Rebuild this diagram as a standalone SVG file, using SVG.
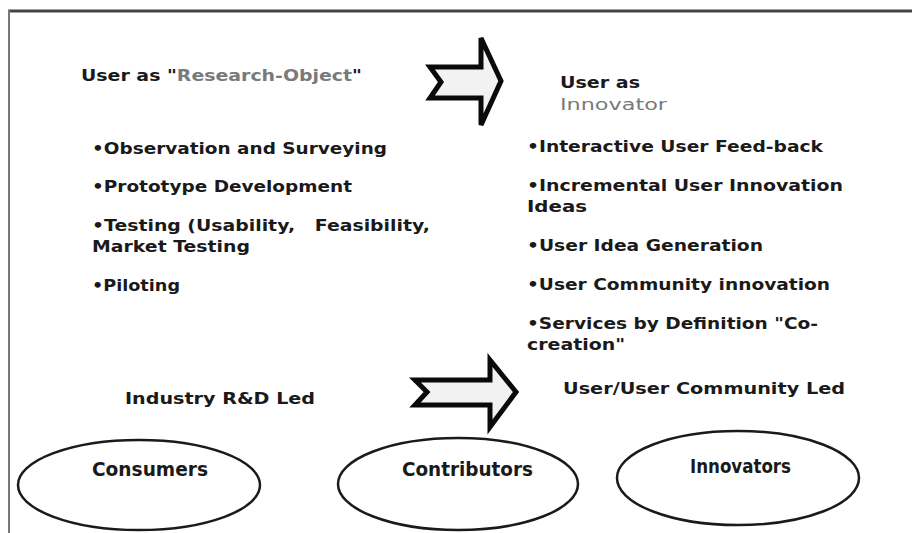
<svg xmlns="http://www.w3.org/2000/svg" width="912" height="533" viewBox="0 0 912 533">
<style>
  .t { font-family: "DejaVu Sans", Verdana, sans-serif; font-weight: bold; font-size: 16px; fill: #1a1a1a; }
  .g { fill: #7a7a7a; }
  .gn { fill: #7a7a7a; font-weight: normal; }
  .e { font-family: "DejaVu Sans Condensed", "DejaVu Sans", sans-serif; font-weight: bold; font-size: 19px; fill: #1a1a1a; }
  .ell { fill: #fff; stroke: #1a1a1a; stroke-width: 2.5; }
  .arr { fill: #f2f2f2; stroke: #0a0a0a; stroke-width: 5; stroke-linejoin: miter; }
</style>
<rect width="912" height="533" fill="#fff"/>
<line x1="8" y1="11" x2="912" y2="11" stroke="#444" stroke-width="3"/>
<line x1="9" y1="10" x2="9" y2="533" stroke="#777" stroke-width="2"/>

<g id="left-header">
  <text class="t" x="81" y="81" textLength="281" lengthAdjust="spacingAndGlyphs">User as "<tspan class="g">Research-Object</tspan>"</text>
</g>
<g id="right-header">
  <text class="t" x="560" y="88" textLength="80" lengthAdjust="spacingAndGlyphs">User as</text>
  <text class="t gn" x="560" y="110" textLength="107" lengthAdjust="spacingAndGlyphs">Innovator</text>
</g>
<g id="left-list">
  <text class="t" x="92" y="154" textLength="295" lengthAdjust="spacingAndGlyphs">•Observation and Surveying</text>
  <text class="t" x="92" y="192" textLength="260" lengthAdjust="spacingAndGlyphs">•Prototype Development</text>
  <text class="t" x="92" y="231" xml:space="preserve" textLength="338" lengthAdjust="spacingAndGlyphs">•Testing (Usability,   Feasibility,</text>
  <text class="t" x="92" y="252" textLength="158" lengthAdjust="spacingAndGlyphs">Market Testing</text>
  <text class="t" x="92" y="291" textLength="88" lengthAdjust="spacingAndGlyphs">•Piloting</text>
</g>
<g id="right-list">
  <text class="t" x="527" y="152" textLength="296" lengthAdjust="spacingAndGlyphs">•Interactive User Feed-back</text>
  <text class="t" x="527" y="191" textLength="316" lengthAdjust="spacingAndGlyphs">•Incremental User Innovation</text>
  <text class="t" x="527" y="212" textLength="60" lengthAdjust="spacingAndGlyphs">Ideas</text>
  <text class="t" x="527" y="251" textLength="236" lengthAdjust="spacingAndGlyphs">•User Idea Generation</text>
  <text class="t" x="527" y="290" textLength="303" lengthAdjust="spacingAndGlyphs">•User Community innovation</text>
  <text class="t" x="527" y="329" textLength="291" lengthAdjust="spacingAndGlyphs">•Services by Definition "Co-</text>
  <text class="t" x="527" y="350" textLength="98" lengthAdjust="spacingAndGlyphs">creation"</text>
</g>
<g id="industry-label">
  <text class="t" x="125" y="404" textLength="190" lengthAdjust="spacingAndGlyphs">Industry R&amp;D Led</text>
</g>
<g id="community-label">
  <text class="t" x="563" y="394" textLength="282" lengthAdjust="spacingAndGlyphs">User/User Community Led</text>
</g>

<g id="connectors">
  <path class="arr" d="M430,67 L481,67 L481,38 L501,81 L481,125 L481,98 L430,98 L441,82 Z"/>
  <path class="arr" d="M415,380 L490,380 L490,360 L516,392 L490,427 L490,405 L415,405 L427,392 Z"/>
</g>

<g id="consumers">
  <ellipse class="ell" cx="139" cy="485" rx="121" ry="45"/>
  <text class="e" x="92" y="476" textLength="116" lengthAdjust="spacingAndGlyphs">Consumers</text>
</g>
<g id="contributors">
  <ellipse class="ell" cx="458" cy="484" rx="120" ry="46"/>
  <text class="e" x="402" y="476" textLength="131" lengthAdjust="spacingAndGlyphs">Contributors</text>
</g>
<g id="innovators">
  <ellipse class="ell" cx="738" cy="478" rx="121" ry="47"/>
  <text class="e" x="690" y="473" textLength="101" lengthAdjust="spacingAndGlyphs">Innovators</text>
</g>
</svg>
